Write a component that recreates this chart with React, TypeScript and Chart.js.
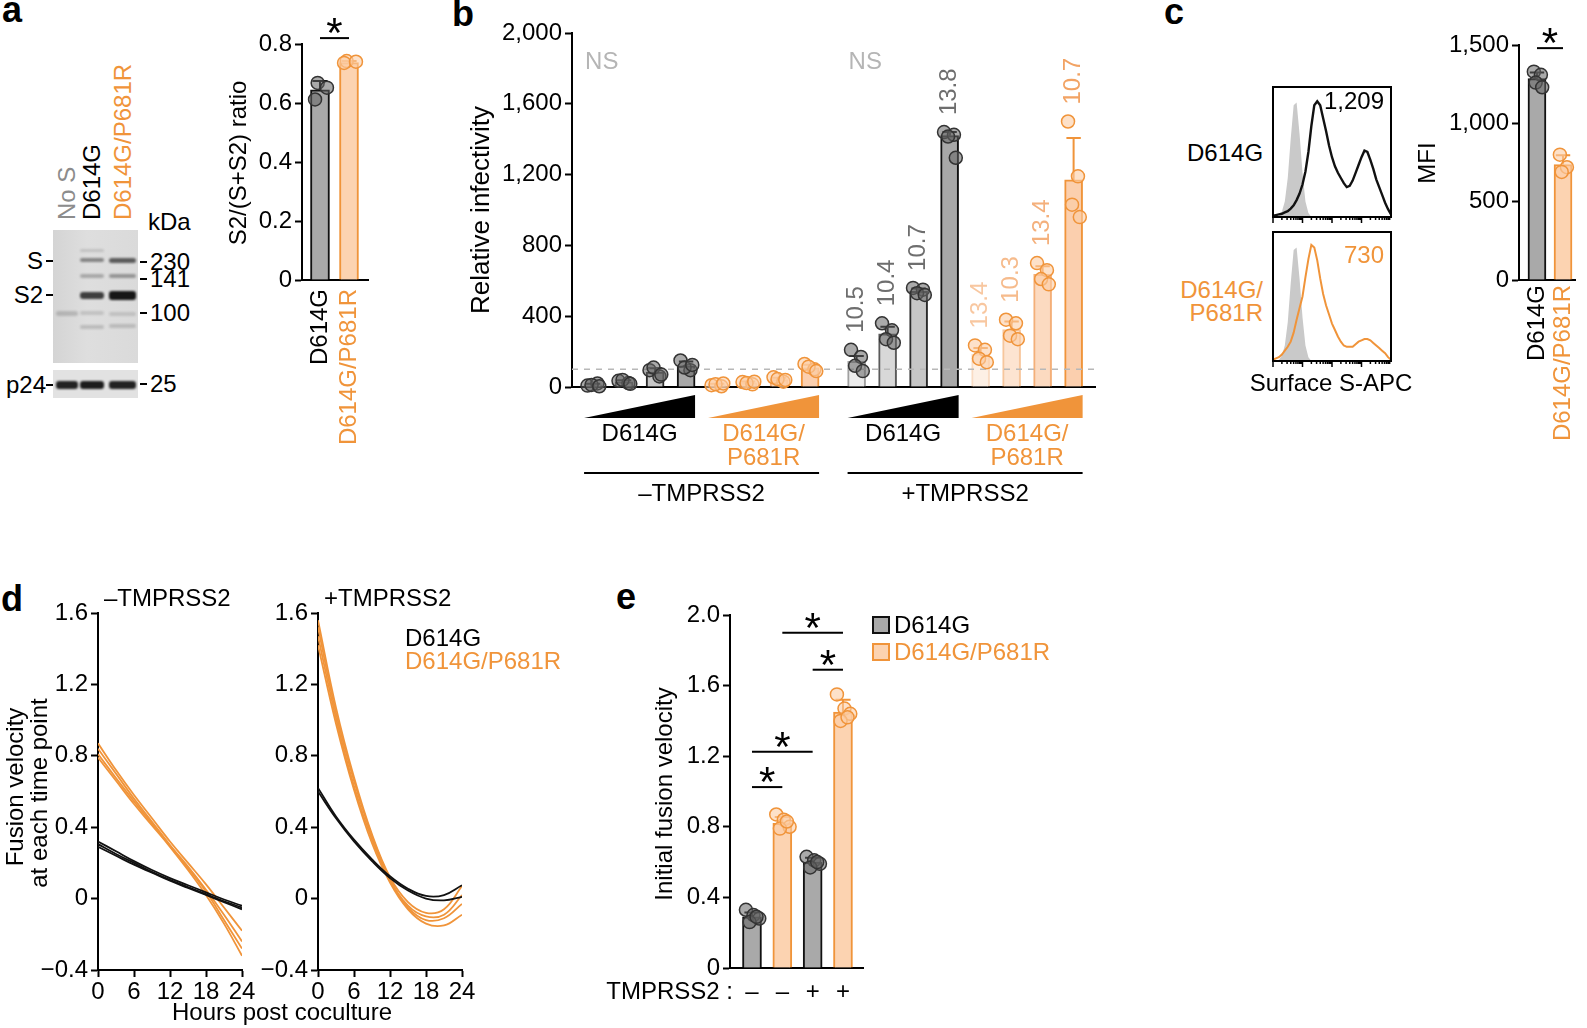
import React, { useEffect, useRef } from 'react';
import { Chart, registerables } from 'chart.js';

Chart.register(...registerables);

const FONT = '"Liberation Sans", Arial, Helvetica, sans-serif';
const BLACK = '#111111';
const GRAY_FILL = '#a9a9a9';
const ORANGE = '#f0943a';
const ORANGE_FILL = '#fcd3b1';
const DOT_GRAY = 'rgba(100,100,100,0.55)';
const DOT_GRAY_EDGE = '#333333';
const DOT_OR = 'rgba(252,205,165,0.6)';
const DOT_OR_EDGE = '#f0943a';

// ---------------- Panel a ----------------
const aCategories = ['D614G', 'D614G/P681R'];
const aMeans = [0.645, 0.737];
const aSD = [0.03, 0.005];
const aPoints = [
  [0.668, 0.612, 0.652],
  [0.742, 0.736, 0.74],
];
const aSig = [{ from: 0, to: 1, y: 0.82 }];
const blotLanes = ['No S', 'D614G', 'D614G/P681R'];
const blotMarkers = ['230', '141', '100', '25'];

// ---------------- Panel b ----------------
const bConditions = ['–TMPRSS2', '+TMPRSS2'];
const bVariantLines = [['D614G'], ['D614G/', 'P681R']];
const bMeans = [12, 29, 84, 120, 12, 24, 42, 109, 145, 300, 540, 1420, 186, 325, 637, 1170];
const bSD = [6, 9, 22, 24, 7, 7, 10, 17, 30, 40, 17, 20, 35, 45, 45, 237];
const bPoints = [
  [8, 20, 12, 4], [35, 22, 40, 18], [95, 60, 110, 70], [150, 95, 110, 125],
  [10, 4, 16, 20], [28, 15, 22, 30], [55, 30, 45, 40], [130, 100, 115, 90],
  [210, 170, 120, 90], [360, 320, 270, 250], [560, 550, 530, 520], [1440, 1425, 1415, 1295],
  [235, 210, 160, 140], [380, 360, 290, 270], [700, 660, 610, 580], [1500, 1190, 1030, 960],
];
const bFold = ['', '', '', '', '', '', '', '', '10.5', '10.4', '10.7', '13.8', '13.4', '10.3', '13.4', '10.7'];
const bThreshold = 100;
const bNS = ['NS', 'NS'];

// ---------------- Panel c ----------------
const cCategories = ['D614G', 'D614G/P681R'];
const cMeans = [1285, 737];
const cSD = [40, 60];
const cPoints = [
  [1330, 1310, 1260, 1230],
  [800, 720, 690],
];
const cSig = [{ from: 0, to: 1, y: 1480 }];
const cMFI = ['1,209', '730'];
const HIST_BINS = [1.0, 1.1, 1.2, 1.3, 1.4, 1.5, 1.6, 1.7, 1.8, 1.9, 2.0, 2.1, 2.2, 2.3, 2.4, 2.5, 2.6, 2.7, 2.8, 2.9, 3.0, 3.1, 3.2, 3.3, 3.4, 3.5, 3.6, 3.7, 3.8, 3.9, 4.0, 4.1, 4.2, 4.3, 4.4, 4.5, 4.6, 4.7, 4.8, 4.9, 5.0];
const histIsotype = [0, 0, 0.01, 0.04, 0.12, 0.3, 0.6, 0.86, 0.88, 0.64, 0.34, 0.12, 0.03, 0, 0, 0, 0, 0, 0, 0, 0, 0, 0, 0, 0, 0, 0, 0, 0, 0, 0, 0, 0, 0, 0, 0, 0, 0, 0, 0, 0];
const histD614G = [0.01, 0.015, 0.02, 0.025, 0.035, 0.045, 0.065, 0.09, 0.13, 0.18, 0.25, 0.35, 0.5, 0.7, 0.86, 0.89, 0.86, 0.76, 0.66, 0.55, 0.46, 0.39, 0.34, 0.3, 0.26, 0.23, 0.24, 0.28, 0.34, 0.4, 0.46, 0.51, 0.5, 0.44, 0.37, 0.29, 0.23, 0.17, 0.11, 0.06, 0.02];
const histP681R = [0.01, 0.02, 0.03, 0.05, 0.08, 0.11, 0.15, 0.22, 0.32, 0.41, 0.5, 0.65, 0.79, 0.9, 0.88, 0.78, 0.64, 0.52, 0.43, 0.36, 0.29, 0.24, 0.19, 0.15, 0.12, 0.11, 0.11, 0.11, 0.13, 0.15, 0.16, 0.17, 0.17, 0.16, 0.14, 0.12, 0.1, 0.08, 0.06, 0.03, 0.01];

// ---------------- Panel d ----------------
const dHours = [0, 3, 6, 9, 12, 15, 18, 21, 24];
const dMinusD614G = [
  [0.32, 0.265, 0.21, 0.16, 0.115, 0.075, 0.035, -0.005, -0.04],
  [0.305, 0.25, 0.2, 0.15, 0.105, 0.065, 0.025, -0.015, -0.05],
  [0.29, 0.24, 0.19, 0.145, 0.1, 0.06, 0.02, -0.02, -0.06],
];
const dMinusP681R = [
  [0.87, 0.72, 0.58, 0.45, 0.32, 0.2, 0.08, -0.05, -0.18],
  [0.84, 0.7, 0.56, 0.43, 0.3, 0.18, 0.05, -0.09, -0.24],
  [0.81, 0.675, 0.545, 0.42, 0.295, 0.17, 0.04, -0.12, -0.28],
  [0.79, 0.66, 0.53, 0.41, 0.29, 0.16, 0.02, -0.14, -0.32],
];
const dPlusD614G = [
  [0.62, 0.46, 0.33, 0.22, 0.125, 0.055, 0.015, 0.02, 0.075],
  [0.6, 0.45, 0.32, 0.21, 0.115, 0.045, 0.0, -0.01, 0.01],
];
const dPlusP681R = [
  [1.56, 1.07, 0.68, 0.36, 0.12, -0.02, -0.08, -0.06, 0.07],
  [1.52, 1.04, 0.66, 0.35, 0.11, -0.04, -0.1, -0.09, 0.02],
  [1.47, 1.01, 0.63, 0.33, 0.1, -0.05, -0.12, -0.11, -0.03],
  [1.42, 0.98, 0.61, 0.31, 0.09, -0.06, -0.14, -0.15, -0.09],
];

// ---------------- Panel e ----------------
const eSeries = ['D614G', 'D614G/P681R'];
const eTMPRSS2 = ['–', '–', '+', '+'];
const eMeans = [0.29, 0.82, 0.6, 1.45];
const eSD = [0.025, 0.035, 0.025, 0.07];
const ePoints = [
  [0.33, 0.3, 0.28, 0.26, 0.29],
  [0.87, 0.84, 0.8, 0.79, 0.83],
  [0.63, 0.61, 0.59, 0.57, 0.6],
  [1.55, 1.47, 1.44, 1.4, 1.42],
];
const eSig = [
  { from: 0, to: 1, y: 1.025 },
  { from: 0, to: 2, y: 1.225 },
  { from: 1, to: 3, y: 1.9 },
  { from: 2, to: 3, y: 1.69 },
];

// ---------------- helpers ----------------
const tickFont = { family: FONT, size: 24 };
const fmtDec = (v: number) => (Math.abs(v) < 1e-9 ? '0' : (v < 0 ? '−' : '') + Math.abs(v).toFixed(1));
const fmtThousands = (v: number) => Math.round(v).toLocaleString('en-US');

type Rect = { l: number; t: number; r: number; b: number };
type Margins = { ml: number; mt: number; mr: number; mb: number };

function yAxis(min: number, max: number, step: number, fmt: (v: number) => string, width: number) {
  return {
    type: 'linear',
    min,
    max,
    ticks: { stepSize: step, callback: (v: any) => fmt(Number(v)), font: tickFont, color: '#000', padding: 3, autoSkip: false },
    grid: { display: true, drawOnChartArea: false, drawTicks: true, tickLength: 7, tickWidth: 2, tickColor: '#000' },
    border: { display: true, color: '#000', width: 2 },
    afterFit: (s: any) => {
      s.width = width;
    },
  };
}

function xAxisPlain(min: number, max: number, height: number) {
  return {
    type: 'linear',
    min,
    max,
    offset: false,
    ticks: { display: false },
    grid: { display: false, drawTicks: false },
    border: { display: true, color: '#000', width: 2 },
    afterFit: (s: any) => {
      s.height = height;
    },
  };
}

function errorBars(xs: number[], means: number[], sds: number[], colors: string[], capW: number) {
  return {
    id: 'errbars',
    afterDatasetDraw(chart: any, args: any) {
      if (args.index !== 0) return;
      const { ctx, scales } = chart;
      const x = scales.x;
      const y = scales.y;
      ctx.save();
      ctx.lineWidth = 2;
      xs.forEach((xv, i) => {
        const px = x.getPixelForValue(xv);
        const y0 = y.getPixelForValue(means[i]);
        const y1 = y.getPixelForValue(means[i] + sds[i]);
        ctx.strokeStyle = colors[i];
        ctx.beginPath();
        ctx.moveTo(px, y0);
        ctx.lineTo(px, y1);
        ctx.moveTo(px - capW / 2, y1);
        ctx.lineTo(px + capW / 2, y1);
        ctx.stroke();
      });
      ctx.restore();
    },
  };
}

function sigPlugin(xs: number[], sigs: { from: number; to: number; y: number }[]) {
  return {
    id: 'sig',
    afterDraw(chart: any) {
      const { ctx, scales } = chart;
      ctx.save();
      sigs.forEach((s) => {
        const x0 = scales.x.getPixelForValue(xs[s.from]);
        const x1 = scales.x.getPixelForValue(xs[s.to]);
        const py = scales.y.getPixelForValue(s.y);
        ctx.strokeStyle = '#000';
        ctx.lineWidth = 2;
        ctx.beginPath();
        ctx.moveTo(x0, py);
        ctx.lineTo(x1, py);
        ctx.stroke();
        ctx.fillStyle = '#000';
        ctx.font = `42px ${FONT}`;
        ctx.textAlign = 'center';
        ctx.textBaseline = 'alphabetic';
        ctx.fillText('*', (x0 + x1) / 2, py + 9);
      });
      ctx.restore();
    },
  };
}

function catLabels(xs: number[], labels: string[], colors: string[], gap: number) {
  return {
    id: 'catlabels',
    afterDraw(chart: any) {
      const { ctx, scales, chartArea } = chart;
      ctx.save();
      ctx.font = `24px ${FONT}`;
      labels.forEach((lab, i) => {
        ctx.save();
        ctx.translate(scales.x.getPixelForValue(xs[i]), chartArea.bottom + gap);
        ctx.rotate(-Math.PI / 2);
        ctx.textAlign = 'right';
        ctx.textBaseline = 'middle';
        ctx.fillStyle = colors[i];
        ctx.fillText(lab, 0, 0);
        ctx.restore();
      });
      ctx.restore();
    },
  };
}

type BarParams = {
  xs: number[];
  means: number[];
  sds: number[];
  points: number[][];
  fills: string[];
  borders: string[];
  errColors: string[];
  dotFills: string[];
  dotEdges: string[];
  barW: number;
  xMin: number;
  xMax: number;
  yMin: number;
  yMax: number;
  yStep: number;
  fmt: (v: number) => string;
  m: Margins;
  jit: number[];
  plugins: any[];
};

function buildBar(cv: HTMLCanvasElement, p: BarParams) {
  const dots: { x: number; y: number }[] = [];
  const dotFill: string[] = [];
  const dotEdge: string[] = [];
  p.points.forEach((arr, i) =>
    arr.forEach((v, j) => {
      dots.push({ x: p.xs[i] + p.jit[j % p.jit.length], y: v });
      dotFill.push(p.dotFills[i]);
      dotEdge.push(p.dotEdges[i]);
    })
  );
  return new Chart(cv, {
    type: 'bar',
    data: {
      datasets: [
        {
          type: 'bar',
          data: p.xs.map((x, i) => ({ x, y: p.means[i] })),
          backgroundColor: p.fills,
          borderColor: p.borders,
          borderWidth: 2,
          barThickness: p.barW,
          order: 2,
        } as any,
        {
          type: 'scatter',
          data: dots,
          pointRadius: 6.5,
          pointBackgroundColor: dotFill,
          pointBorderColor: dotEdge,
          pointBorderWidth: 1.5,
          order: 1,
          clip: false,
        } as any,
      ],
    },
    options: {
      responsive: false,
      animation: false,
      events: [],
      layout: { padding: { left: 0, top: p.m.mt, right: p.m.mr, bottom: 0 } },
      plugins: { legend: { display: false }, tooltip: { enabled: false } },
      scales: {
        x: xAxisPlain(p.xMin, p.xMax, p.m.mb) as any,
        y: yAxis(p.yMin, p.yMax, p.yStep, p.fmt, p.m.ml) as any,
      },
    } as any,
    plugins: [errorBars(p.xs, p.means, p.sds, p.errColors, p.barW * 0.8), ...p.plugins],
  });
}

function ChartCanvas({ area, m, build }: { area: Rect; m: Margins; build: (cv: HTMLCanvasElement) => Chart }) {
  const ref = useRef<HTMLCanvasElement | null>(null);
  const w = area.r - area.l + m.ml + m.mr;
  const h = area.b - area.t + m.mt + m.mb;
  useEffect(() => {
    const chart = build(ref.current as HTMLCanvasElement);
    return () => chart.destroy();
  }, []);
  return (
    <canvas
      ref={ref}
      width={w}
      height={h}
      style={{ position: 'absolute', left: area.l - m.ml, top: area.t - m.mt, width: w, height: h }}
    />
  );
}

function Txt(props: {
  x: number;
  y: number;
  size?: number;
  color?: string;
  align?: 'left' | 'right' | 'center';
  bold?: boolean;
  rotate?: boolean;
  children: React.ReactNode;
}) {
  const { x, y, size = 24, color = '#000', align = 'left', bold = false, rotate = false, children } = props;
  const inner: React.CSSProperties = {
    position: 'absolute',
    top: -size / 2,
    lineHeight: `${size}px`,
    fontSize: size,
    color,
    fontWeight: bold ? 700 : 400,
    whiteSpace: 'pre',
    fontFamily: FONT,
  };
  if (align === 'left') inner.left = 0;
  else if (align === 'right') inner.right = 0;
  else {
    inner.left = 0;
    inner.transform = 'translateX(-50%)';
  }
  return (
    <div style={{ position: 'absolute', left: x, top: y, width: 0, height: 0, transform: rotate ? 'rotate(-90deg)' : undefined }}>
      <div style={inner}>{children}</div>
    </div>
  );
}

// ---------------- Panel builders ----------------
const A_AREA: Rect = { l: 302, t: 44, r: 368, b: 280 };
const A_M: Margins = { ml: 75, mt: 40, mr: 12, mb: 175 };
const B_AREA: Rect = { l: 572, t: 33, r: 1095, b: 387 };
const B_M: Margins = { ml: 100, mt: 25, mr: 10, mb: 125 };
const C_AREA: Rect = { l: 1519, t: 45, r: 1575, b: 280 };
const C_M: Margins = { ml: 85, mt: 40, mr: 10, mb: 175 };
const H1_AREA: Rect = { l: 1273, t: 87, r: 1391, b: 217 };
const H2_AREA: Rect = { l: 1273, t: 232, r: 1391, b: 361 };
const H_M: Margins = { ml: 2, mt: 2, mr: 2, mb: 10 };
const D1_AREA: Rect = { l: 98, t: 613, r: 242, b: 970 };
const D2_AREA: Rect = { l: 318, t: 613, r: 462, b: 970 };
const D_M: Margins = { ml: 75, mt: 20, mr: 22, mb: 40 };
const E_AREA: Rect = { l: 730, t: 615, r: 863, b: 968 };
const E_M: Margins = { ml: 135, mt: 25, mr: 10, mb: 40 };

function buildA(cv: HTMLCanvasElement) {
  const xs = aCategories.map((_, i) => i);
  return buildBar(cv, {
    xs,
    means: aMeans,
    sds: aSD,
    points: aPoints,
    fills: [GRAY_FILL, ORANGE_FILL],
    borders: [BLACK, ORANGE],
    errColors: [BLACK, ORANGE],
    dotFills: [DOT_GRAY, DOT_OR],
    dotEdges: [DOT_GRAY_EDGE, DOT_OR_EDGE],
    barW: 19,
    xMin: -0.62,
    xMax: 1.655,
    yMin: 0,
    yMax: 0.8,
    yStep: 0.2,
    fmt: fmtDec,
    m: A_M,
    jit: [-0.08, -0.17, 0.24],
    plugins: [sigPlugin(xs, aSig), catLabels(xs, aCategories, ['#000', ORANGE], 9)],
  });
}

const bFills = ['#ececec', '#d8d8d8', '#c6c6c6', '#a8a8a8', '#fdf0e5', '#fde4d1', '#fcdac0', '#fbcfae'];
const bBorders = ['#a0a0a0', '#5a5a5a', '#2a2a2a', BLACK, '#f9dcc4', '#f7c69c', '#f4af78', ORANGE];
const bFoldColors = ['#6e6e6e', '#6e6e6e', '#6e6e6e', '#6e6e6e', '#f8c7a0', '#f6bb8c', '#f4b07c', '#f2a364'];

function buildB(cv: HTMLCanvasElement) {
  const xs = bMeans.map((_, i) => i + (i >= 8 ? 0.5 : 0));
  const barW = 18;
  const fills = bMeans.map((_, i) => bFills[i % 8]);
  const borders = bMeans.map((_, i) => bBorders[i % 8]);
  const dotFills = bMeans.map((_, i) => (i % 8 < 4 ? DOT_GRAY : DOT_OR));
  const dotEdges = bMeans.map((_, i) => (i % 8 < 4 ? DOT_GRAY_EDGE : DOT_OR_EDGE));
  const errColors = bMeans.map((_, i) => (i % 8 < 4 ? BLACK : ORANGE));
  const annot = {
    id: 'bAnnot',
    afterDatasetDraw(chart: any, args: any) {
      if (args.index !== 0) return;
      const { ctx, chartArea, scales } = chart;
      const py = scales.y.getPixelForValue(bThreshold);
      ctx.save();
      ctx.setLineDash([6, 6]);
      ctx.strokeStyle = '#b8b8b8';
      ctx.lineWidth = 1.5;
      ctx.beginPath();
      ctx.moveTo(chartArea.left, py);
      ctx.lineTo(chartArea.right, py);
      ctx.stroke();
      ctx.restore();
    },
    afterDraw(chart: any) {
      const { ctx, chartArea, scales } = chart;
      const X = (v: number) => scales.x.getPixelForValue(v);
      const Y = (v: number) => scales.y.getPixelForValue(v);
      const base = chartArea.bottom;
      ctx.save();
      ctx.font = `24px ${FONT}`;
      const edges: [number, number][] = [];
      for (let g = 0; g < 4; g++) {
        const xl = X(xs[4 * g]) - barW / 2;
        const xr = X(xs[4 * g + 3]) + barW / 2;
        edges.push([xl, xr]);
        const col = g % 2 === 0 ? '#000' : ORANGE;
        ctx.fillStyle = col;
        ctx.beginPath();
        ctx.moveTo(xl, base + 31);
        ctx.lineTo(xr, base + 31);
        ctx.lineTo(xr, base + 8);
        ctx.closePath();
        ctx.fill();
        ctx.textAlign = 'center';
        ctx.textBaseline = 'middle';
        bVariantLines[g % 2].forEach((line, k) => ctx.fillText(line, (xl + xr) / 2, base + 47 + k * 24));
      }
      for (let c = 0; c < 2; c++) {
        const xl = edges[2 * c][0];
        const xr = edges[2 * c + 1][1];
        ctx.strokeStyle = '#000';
        ctx.lineWidth = 2;
        ctx.beginPath();
        ctx.moveTo(xl, base + 86);
        ctx.lineTo(xr, base + 86);
        ctx.stroke();
        ctx.fillStyle = '#000';
        ctx.textAlign = 'center';
        ctx.fillText(bConditions[c], (xl + xr) / 2, base + 107);
        ctx.fillStyle = '#b5b5b5';
        ctx.textAlign = 'left';
        ctx.fillText(bNS[c], edges[2 * c][0] + 1, Y(1836));
      }
      bFold.forEach((lab, i) => {
        if (!lab) return;
        const top = Math.max(Math.max(...bPoints[i]), bMeans[i] + bSD[i]);
        ctx.save();
        ctx.translate(X(xs[i]), Y(top) - 17);
        ctx.rotate(-Math.PI / 2);
        ctx.textAlign = 'left';
        ctx.textBaseline = 'middle';
        ctx.fillStyle = bFoldColors[i % 8];
        ctx.fillText(lab, 0, 0);
        ctx.restore();
      });
      ctx.restore();
    },
  };
  return buildBar(cv, {
    xs,
    means: bMeans,
    sds: bSD,
    points: bPoints,
    fills,
    borders,
    errColors,
    dotFills,
    dotEdges,
    barW,
    xMin: -0.68,
    xMax: 16.19,
    yMin: 0,
    yMax: 2000,
    yStep: 400,
    fmt: fmtThousands,
    m: B_M,
    jit: [-0.18, 0.14, -0.05, 0.2],
    plugins: [annot],
  });
}

function buildC(cv: HTMLCanvasElement) {
  const xs = cCategories.map((_, i) => i);
  return buildBar(cv, {
    xs,
    means: cMeans,
    sds: cSD,
    points: cPoints,
    fills: [GRAY_FILL, ORANGE_FILL],
    borders: [BLACK, ORANGE],
    errColors: [BLACK, ORANGE],
    dotFills: [DOT_GRAY, DOT_OR],
    dotEdges: [DOT_GRAY_EDGE, DOT_OR_EDGE],
    barW: 18,
    xMin: -0.69,
    xMax: 1.46,
    yMin: 0,
    yMax: 1500,
    yStep: 500,
    fmt: fmtThousands,
    m: C_M,
    jit: [-0.12, 0.15, -0.05, 0.2],
    plugins: [sigPlugin(xs, cSig), catLabels(xs, cCategories, ['#000', ORANGE], 5)],
  });
}

const histFrame = {
  id: 'histFrame',
  afterDraw(chart: any) {
    const { ctx, chartArea, scales } = chart;
    ctx.save();
    ctx.strokeStyle = '#000';
    ctx.lineWidth = 2;
    ctx.strokeRect(chartArea.left, chartArea.top, chartArea.right - chartArea.left, chartArea.bottom - chartArea.top);
    ctx.lineWidth = 1.5;
    ctx.beginPath();
    for (let d = 1; d <= 4; d++) {
      for (let k = 1; k <= 9; k++) {
        const v = d + Math.log10(k);
        const px = scales.x.getPixelForValue(v);
        const len = k === 1 ? 6 : 3;
        ctx.moveTo(px, chartArea.bottom);
        ctx.lineTo(px, chartArea.bottom + len);
      }
    }
    ctx.stroke();
    ctx.restore();
  },
};

function buildHist(cv: HTMLCanvasElement, sample: number[], color: string, lw: number) {
  return new Chart(cv, {
    type: 'line',
    data: {
      datasets: [
        {
          data: HIST_BINS.map((x, i) => ({ x, y: sample[i] })),
          borderColor: color,
          borderWidth: lw,
          pointRadius: 0,
          fill: false,
          tension: 0,
          order: 1,
        },
        {
          data: HIST_BINS.map((x, i) => ({ x, y: histIsotype[i] })),
          borderWidth: 0,
          borderColor: 'rgba(0,0,0,0)',
          backgroundColor: '#c9c9c9',
          fill: 'origin',
          pointRadius: 0,
          tension: 0,
          order: 2,
        },
      ],
    } as any,
    options: {
      responsive: false,
      animation: false,
      events: [],
      layout: { padding: { left: H_M.ml, top: H_M.mt, right: H_M.mr, bottom: H_M.mb } },
      plugins: { legend: { display: false }, tooltip: { enabled: false } },
      scales: {
        x: { type: 'linear', min: 1, max: 5, display: false },
        y: { type: 'linear', min: 0, max: 1, display: false },
      },
    } as any,
    plugins: [histFrame],
  });
}

function buildLines(cv: HTMLCanvasElement, black: number[][], orange: number[][]) {
  const mk = (arr: number[], color: string) => ({
    data: dHours.map((h, i) => ({ x: h, y: arr[i] })),
    borderColor: color,
    borderWidth: 1.8,
    pointRadius: 0,
    tension: 0.4,
    fill: false,
  });
  return new Chart(cv, {
    type: 'line',
    data: { datasets: [...black.map((a) => mk(a, BLACK)), ...orange.map((a) => mk(a, ORANGE))] } as any,
    options: {
      responsive: false,
      animation: false,
      events: [],
      layout: { padding: { left: 0, top: D_M.mt, right: D_M.mr, bottom: 0 } },
      plugins: { legend: { display: false }, tooltip: { enabled: false } },
      scales: {
        x: {
          type: 'linear',
          min: 0,
          max: 24,
          ticks: { stepSize: 6, font: tickFont, color: '#000', padding: 1, maxRotation: 0, autoSkip: false, callback: (v: any) => String(Math.round(Number(v))) },
          grid: { display: true, drawOnChartArea: false, drawTicks: true, tickLength: 7, tickWidth: 2, tickColor: '#000' },
          border: { display: true, color: '#000', width: 2 },
          afterFit: (s: any) => {
            s.height = D_M.mb;
          },
        },
        y: yAxis(-0.4, 1.6, 0.4, fmtDec, D_M.ml),
      },
    } as any,
  });
}

function buildE(cv: HTMLCanvasElement) {
  const xs = eMeans.map((_, i) => i);
  const row = {
    id: 'eRow',
    afterDraw(chart: any) {
      const { ctx, scales, chartArea } = chart;
      ctx.save();
      ctx.font = `24px ${FONT}`;
      ctx.fillStyle = '#000';
      ctx.textBaseline = 'middle';
      ctx.textAlign = 'right';
      ctx.fillText('TMPRSS2 :', 733 - (E_AREA.l - E_M.ml), chartArea.bottom + 24);
      ctx.textAlign = 'center';
      eTMPRSS2.forEach((s, i) => ctx.fillText(s, scales.x.getPixelForValue(xs[i]), chartArea.bottom + 24));
      ctx.restore();
    },
  };
  return buildBar(cv, {
    xs,
    means: eMeans,
    sds: eSD,
    points: ePoints,
    fills: [GRAY_FILL, ORANGE_FILL, GRAY_FILL, ORANGE_FILL],
    borders: [BLACK, ORANGE, BLACK, ORANGE],
    errColors: [BLACK, ORANGE, BLACK, ORANGE],
    dotFills: [DOT_GRAY, DOT_OR, DOT_GRAY, DOT_OR],
    dotEdges: [DOT_GRAY_EDGE, DOT_OR_EDGE, DOT_GRAY_EDGE, DOT_OR_EDGE],
    barW: 19,
    xMin: -0.725,
    xMax: 3.66,
    yMin: 0,
    yMax: 2.0,
    yStep: 0.4,
    fmt: fmtDec,
    m: E_M,
    jit: [-0.2, 0.05, 0.24, -0.08, 0.15],
    plugins: [sigPlugin(xs, eSig), row],
  });
}

// ---------------- Western blot (image-like panel) ----------------
const laneX: [number, number][] = [
  [56, 78],
  [80, 104],
  [109, 136],
];
const blotBands = [
  { lane: 1, y: 250, h: 3, a: 0.12 },
  { lane: 1, y: 260, h: 4, a: 0.4 },
  { lane: 2, y: 260, h: 5, a: 0.58 },
  { lane: 1, y: 276, h: 4, a: 0.24 },
  { lane: 2, y: 276, h: 4, a: 0.32 },
  { lane: 1, y: 295, h: 7, a: 0.72 },
  { lane: 2, y: 295, h: 9, a: 0.9 },
  { lane: 0, y: 313, h: 5, a: 0.16 },
  { lane: 1, y: 313, h: 4, a: 0.12 },
  { lane: 2, y: 314, h: 4, a: 0.12 },
  { lane: 1, y: 327, h: 4, a: 0.15 },
  { lane: 2, y: 326, h: 4, a: 0.15 },
  { lane: 0, y: 385, h: 8, a: 0.85 },
  { lane: 1, y: 385, h: 8, a: 0.88 },
  { lane: 2, y: 385, h: 8, a: 0.85 },
];

function Blot() {
  const laneColors = ['#8c8c8c', '#000', ORANGE];
  const markerY = [262, 279, 313, 384];
  return (
    <>
      <div style={{ position: 'absolute', left: 53, top: 230, width: 85, height: 133, background: 'linear-gradient(90deg,#d4d4d4,#dedede 40%,#dadada)' }} />
      <div style={{ position: 'absolute', left: 53, top: 370, width: 85, height: 28, background: '#e2e2e2' }} />
      {blotBands.map((b, i) => (
        <div
          key={i}
          style={{
            position: 'absolute',
            left: laneX[b.lane][0],
            top: b.y - b.h / 2,
            width: laneX[b.lane][1] - laneX[b.lane][0],
            height: b.h,
            background: `rgba(0,0,0,${b.a})`,
            borderRadius: 3,
            filter: 'blur(1px)',
          }}
        />
      ))}
      {blotLanes.map((l, i) => (
        <Txt key={l} x={(laneX[i][0] + laneX[i][1]) / 2} y={220} rotate color={laneColors[i]}>
          {l}
        </Txt>
      ))}
      <Txt x={148} y={222}>kDa</Txt>
      <Txt x={43} y={261} align="right">S</Txt>
      <Txt x={43} y={295} align="right">S2</Txt>
      <Txt x={46} y={385} align="right">p24</Txt>
      {[261, 295, 385].map((yy) => (
        <div key={yy} style={{ position: 'absolute', left: 46, top: yy - 1, width: 7, height: 2, background: '#000' }} />
      ))}
      {blotMarkers.map((m, i) => (
        <React.Fragment key={m}>
          <div style={{ position: 'absolute', left: 140, top: markerY[i] - 1, width: 7, height: 2, background: '#000' }} />
          <Txt x={150} y={markerY[i]}>{m}</Txt>
        </React.Fragment>
      ))}
    </>
  );
}

export default function App() {
  return (
    <div style={{ position: 'absolute', left: 0, top: 0, width: 1587, height: 1028, background: '#fff', overflow: 'hidden', fontFamily: FONT }}>
      {/* panel letters */}
      <Txt x={2} y={10} size={36} bold>a</Txt>
      <Txt x={452} y={14} size={36} bold>b</Txt>
      <Txt x={1164} y={12} size={36} bold>c</Txt>
      <Txt x={1} y={599} size={36} bold>d</Txt>
      <Txt x={616} y={597} size={36} bold>e</Txt>

      {/* panel a */}
      <Blot />
      <ChartCanvas area={A_AREA} m={A_M} build={buildA} />
      <Txt x={238} y={163} rotate align="center">S2/(S+S2) ratio</Txt>

      {/* panel b */}
      <ChartCanvas area={B_AREA} m={B_M} build={buildB} />
      <Txt x={480} y={210} size={26} rotate align="center">Relative infectivity</Txt>

      {/* panel c */}
      <ChartCanvas area={H1_AREA} m={H_M} build={(cv) => buildHist(cv, histD614G, BLACK, 2.4)} />
      <ChartCanvas area={H2_AREA} m={H_M} build={(cv) => buildHist(cv, histP681R, ORANGE, 2)} />
      <Txt x={1187} y={153}>{cCategories[0]}</Txt>
      <Txt x={1263} y={290} align="right" color={ORANGE}>D614G/</Txt>
      <Txt x={1263} y={313} align="right" color={ORANGE}>P681R</Txt>
      <Txt x={1384} y={101} align="right">{cMFI[0]}</Txt>
      <Txt x={1384} y={255} align="right" color={ORANGE}>{cMFI[1]}</Txt>
      <Txt x={1331} y={383} align="center">Surface S-APC</Txt>
      <ChartCanvas area={C_AREA} m={C_M} build={buildC} />
      <Txt x={1427} y={163} rotate align="center">MFI</Txt>

      {/* panel d */}
      <ChartCanvas area={D1_AREA} m={D_M} build={(cv) => buildLines(cv, dMinusD614G, dMinusP681R)} />
      <ChartCanvas area={D2_AREA} m={D_M} build={(cv) => buildLines(cv, dPlusD614G, dPlusP681R)} />
      <Txt x={104} y={598}>–TMPRSS2</Txt>
      <Txt x={324} y={598}>+TMPRSS2</Txt>
      <Txt x={405} y={638}>D614G</Txt>
      <Txt x={405} y={661} color={ORANGE}>D614G/P681R</Txt>
      <Txt x={15} y={787} rotate align="center">Fusion velocity</Txt>
      <Txt x={39} y={793} rotate align="center">at each time point</Txt>
      <Txt x={282} y={1012} align="center">Hours post coculture</Txt>

      {/* panel e */}
      <ChartCanvas area={E_AREA} m={E_M} build={buildE} />
      <Txt x={664} y={794} rotate align="center">Initial fusion velocity</Txt>
      <div style={{ position: 'absolute', left: 872, top: 616, width: 18, height: 18, boxSizing: 'border-box', background: GRAY_FILL, border: `2px solid ${BLACK}` }} />
      <div style={{ position: 'absolute', left: 872, top: 643, width: 18, height: 18, boxSizing: 'border-box', background: ORANGE_FILL, border: `2px solid ${ORANGE}` }} />
      <Txt x={894} y={625}>{eSeries[0]}</Txt>
      <Txt x={894} y={652} color={ORANGE}>{eSeries[1]}</Txt>
    </div>
  );
}
